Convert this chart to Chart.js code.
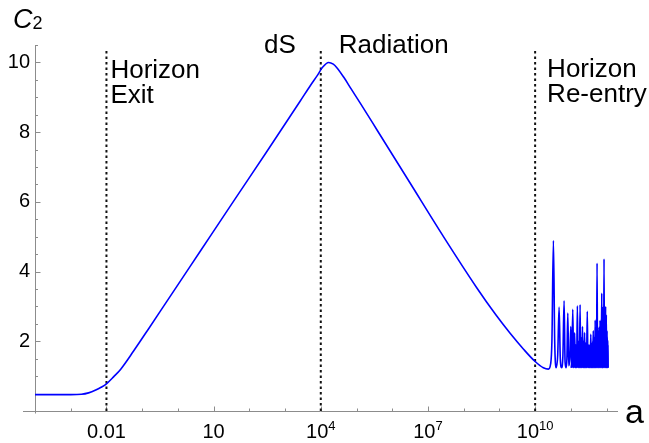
<!DOCTYPE html>
<html>
<head>
<meta charset="utf-8">
<script src="https://cdn.jsdelivr.net/npm/chart.js@4.4.1/dist/chart.umd.min.js"></script>
<style>
  html, body { margin: 0; padding: 0; background: #fff; }
  #wrap { width: 649px; height: 443px; }
</style>
</head>
<body>
<div id="wrap"><canvas id="c2Chart" width="649" height="443"></canvas></div>
<script>
// [log10(a), C2]
const smoothCurve = [
  [-4.0, 0.47], [-3.5, 0.47], [-3.0, 0.47], [-2.7, 0.48], [-2.5, 0.52],
  [-2.3, 0.60], [-2.15, 0.68], [-2.0, 0.78], [-1.8, 0.98], [-1.6, 1.2],
  [-1.24, 1.72], [-0.8, 2.39], [-0.3, 3.16], [0.63, 4.59], [1.56, 6.02],
  [2.5, 7.46], [3.43, 8.9], [3.71, 9.34], [3.9, 9.62], [4.05, 9.86],
  [4.22, 10.0], [4.35, 9.95], [4.45, 9.85], [4.64, 9.58], [4.85, 9.24],
  [5.1, 8.84], [5.57, 8.07], [6.5, 6.54], [7.43, 5.01], [8.37, 3.53],
  [8.9, 2.76], [9.3, 2.23], [9.67, 1.78], [10.0, 1.42], [10.23, 1.24],
  [10.37, 1.2]
]

// resonance spikes after horizon re-entry
const reentryOscillation = [
  [10.434, 1.35], [10.470, 2.0], [10.512, 4.89], [10.548, 2.0], [10.587, 1.24],
  [10.632, 1.6], [10.671, 2.98], [10.705, 1.5], [10.741, 1.24], [10.778, 1.6],
  [10.811, 3.16], [10.839, 1.4], [10.867, 1.24], [10.890, 1.5], [10.915, 2.81],
  [10.940, 1.3], [10.971, 1.5], [10.999, 2.42], [11.024, 1.25], [11.054, 2.92],
  [11.080, 1.24], [11.108, 2.24], [11.124, 1.24], [11.141, 1.9], [11.161, 1.24],
  [11.183, 3.02], [11.203, 1.24], [11.220, 2.0], [11.239, 1.24], [11.259, 3.05],
  [11.276, 1.24], [11.292, 2.1], [11.309, 1.24], [11.326, 2.42], [11.343, 1.24],
  [11.357, 2.0], [11.373, 1.24], [11.385, 2.25], [11.401, 1.24], [11.418, 1.95],
  [11.438, 1.24], [11.460, 2.86], [11.480, 1.24], [11.494, 1.9], [11.511, 1.24],
  [11.524, 1.85], [11.541, 1.24], [11.558, 2.2], [11.575, 1.24], [11.594, 1.9],
  [11.608, 1.24], [11.628, 2.3], [11.642, 1.24], [11.654, 2.1], [11.670, 1.24],
  [11.681, 2.61], [11.692, 1.24], [11.704, 2.2], [11.718, 1.24], [11.734, 4.24],
  [11.748, 1.24], [11.762, 2.3], [11.776, 1.24], [11.790, 2.4], [11.804, 1.24],
  [11.818, 2.6], [11.829, 1.24], [11.838, 2.3], [11.851, 1.24], [11.865, 3.38],
  [11.876, 1.24], [11.888, 2.5], [11.898, 1.24], [11.907, 3.0], [11.917, 1.24],
  [11.929, 4.36], [11.940, 1.24], [11.950, 2.6], [11.962, 1.24], [11.973, 3.0],
  [11.985, 1.24], [11.992, 2.76], [12.003, 1.24], [12.014, 2.3], [12.026, 1.24],
  [12.034, 1.9], [12.043, 1.24]
]

// upper edge of the unresolved fast oscillation (solid band)
const denseEnvelope = [
  [11.0, 1.24], [11.04, 1.6], [11.2, 1.75], [11.4, 1.85], [11.55, 1.9],
  [11.7, 2.1], [11.85, 2.25], [11.98, 2.2], [12.04, 2.0], [12.045, 1.24]
]
const oscBase = 1.24

// epochs marked with dotted lines (log10 a)
const epochExp = [-2, 4, 10]
const epochLineTop = 10.4

const xMinExp = -4
const xMaxExp = 12.32
const xTickExp = [-2, 1, 4, 7, 10]
const xTickLabels = ['0.01', '10', '10^4', '10^7', '10^10']
const yTickValues = [2, 4, 6, 8, 10]
const yMax = 10.5

const annotations = [
  { exp: -2, dx: 4, dy: 33, align: 'left', lines: ['Horizon', 'Exit'] },
  { exp: 4, dx: -25, dy: 8, align: 'right', lines: ['dS'] },
  { exp: 4, dx: 18, dy: 8, align: 'left', lines: ['Radiation'] },
  { exp: 10, dx: 12, dy: 32, align: 'left', lines: ['Horizon', 'Re-entry'] },
]

const FONT = '"Liberation Sans", Arial, sans-serif'
const BLUE = '#0000ff'

function toPoints(arr) {
  return arr.map(p => ({ x: 10 ** p[0], y: p[1] }))
}

let datasets = [{
  data: toPoints(smoothCurve.concat(reentryOscillation)),
  borderColor: BLUE,
  borderWidth: 1.6,
  pointRadius: 0,
  cubicInterpolationMode: 'monotone',
  fill: false
}, {
  data: toPoints(denseEnvelope),
  borderColor: BLUE,
  borderWidth: 1,
  backgroundColor: BLUE,
  pointRadius: 0,
  fill: { value: oscBase }
}]
epochExp.forEach(e => {
  datasets.push({
    data: [{ x: 10 ** e, y: 0 }, { x: 10 ** e, y: epochLineTop }],
    borderColor: '#111',
    borderWidth: 2,
    borderDash: [2.5, 3],
    pointRadius: 0,
    fill: false
  })
})

const decorations = {
  id: 'decorations',
  beforeDatasetsDraw(chart) {
    const { ctx, chartArea, scales: { x, y } } = chart
    const y0 = Math.round(y.getPixelForValue(0)) + 0.5
    const ax = Math.round(x.getPixelForValue(10 ** xMinExp)) + 0.5
    ctx.save()
    ctx.strokeStyle = '#8c8c8c'
    ctx.lineWidth = 1
    ctx.beginPath()
    // axes
    ctx.moveTo(chartArea.left - 12, y0)
    ctx.lineTo(chartArea.right, y0)
    ctx.moveTo(ax, y0 + 2)
    ctx.lineTo(ax, chartArea.top)
    // x ticks, one per decade
    for (let e = xMinExp; e <= Math.floor(xMaxExp); e++) {
      const px = Math.round(x.getPixelForValue(10 ** e)) + 0.5
      const len = xTickExp.includes(e) ? 5 : 3
      ctx.moveTo(px, y0)
      ctx.lineTo(px, y0 - len)
    }
    // y ticks every 0.5
    for (let k = 1; k <= yMax * 2; k++) {
      const v = k / 2
      const py = Math.round(y.getPixelForValue(v)) + 0.5
      const len = yTickValues.includes(v) ? 5 : 2.5
      ctx.moveTo(ax, py)
      ctx.lineTo(ax + len, py)
    }
    ctx.stroke()
    ctx.restore()
  },
  afterDraw(chart) {
    const { ctx, chartArea, scales: { x, y } } = chart
    const y0 = y.getPixelForValue(0)
    ctx.save()
    ctx.fillStyle = '#000'
    ctx.textBaseline = 'alphabetic'
    ctx.textAlign = 'left'

    // x tick labels with superscripts
    xTickExp.forEach((e, i) => {
      const [base, sup] = xTickLabels[i].split('^')
      const px = x.getPixelForValue(10 ** e)
      ctx.font = '20px ' + FONT
      const wb = ctx.measureText(base).width
      let ws = 0
      if (sup) {
        ctx.font = '13px ' + FONT
        ws = ctx.measureText(sup).width
      }
      const left = px - (wb + ws) / 2
      ctx.font = '20px ' + FONT
      ctx.fillText(base, left, y0 + 27)
      if (sup) {
        ctx.font = '13px ' + FONT
        ctx.fillText(sup, left + wb, y0 + 19)
      }
    })

    // epoch labels
    ctx.font = '26px ' + FONT
    annotations.forEach(a => {
      const px = x.getPixelForValue(10 ** a.exp)
      ctx.textAlign = a.align
      a.lines.forEach((t, i) => {
        ctx.fillText(t, px + a.dx, chartArea.top + a.dy + i * 24.5)
      })
    })

    // axis titles
    ctx.textAlign = 'left'
    ctx.font = 'italic 27px ' + FONT
    ctx.fillText('C', 13, 28)
    const wc = ctx.measureText('C').width
    ctx.font = '18px ' + FONT
    ctx.fillText('2', 13 + wc, 29)
    ctx.font = '34px ' + FONT
    ctx.fillText('a', 625, 423)
    ctx.restore()
  }
}

new Chart(document.getElementById('c2Chart'), {
  type: 'line',
  data: { datasets: datasets },
  options: {
    responsive: false,
    devicePixelRatio: 1,
    animation: false,
    layout: { padding: { top: 45, right: 31, left: 0, bottom: 0 } },
    plugins: { legend: { display: false }, tooltip: { enabled: false } },
    scales: {
      x: {
        type: 'logarithmic',
        min: 10 ** xMinExp,
        max: 10 ** xMaxExp,
        ticks: { display: false },
        grid: { display: false, drawTicks: false },
        border: { display: false },
        afterFit: s => { s.height = 32 }
      },
      y: {
        type: 'linear',
        min: 0,
        max: yMax,
        afterBuildTicks: s => { s.ticks = yTickValues.map(v => ({ value: v })) },
        ticks: { color: '#000', font: { family: FONT, size: 20 }, padding: 5 },
        grid: { display: false, drawTicks: false },
        border: { display: false },
        afterFit: s => { s.width = 35 }
      }
    }
  },
  plugins: [decorations]
})
</script>
</body>
</html>
